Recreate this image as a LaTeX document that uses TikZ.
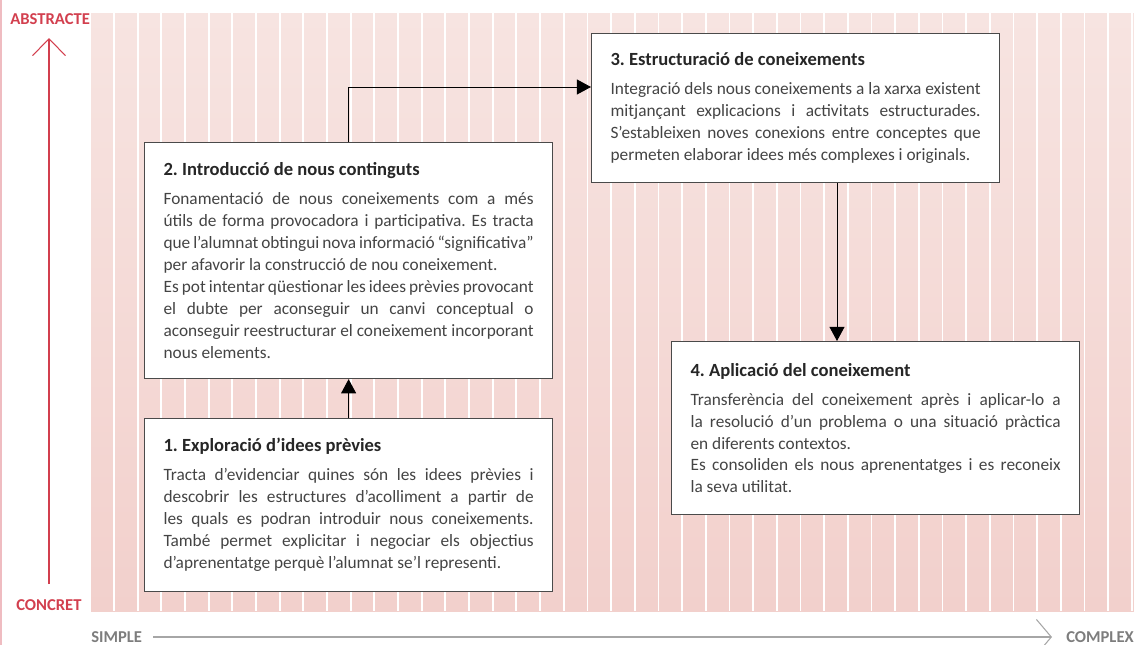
\documentclass[tikz,border=0pt]{standalone}
\usepackage{fontspec}
\setmainfont{Carlito}
\usetikzlibrary{arrows.meta}
\frenchspacing
\definecolor{stripetop}{HTML}{F7E4E1}
\definecolor{stripebottom}{HTML}{F2D0CC}
\definecolor{axisred}{HTML}{D23F4E}
\definecolor{axisgray}{HTML}{A6A6A6}
\definecolor{labelgray}{HTML}{7D7D7D}
\definecolor{bodygray}{HTML}{444444}
\definecolor{framegray}{HTML}{4A4A4A}
\newcommand{\stagehead}[1]{\hbox{\fontsize{13.2}{15.6}\selectfont\bfseries\color{black!85}#1}\vskip5pt}
\newcommand{\fullline}[1]{\hbox to \hsize{#1}}
\newcommand{\lastline}[1]{\hbox{#1}}
\begin{document}
\begin{tikzpicture}
		[x=0.025cm, y=-0.025cm,
		stage/.style={draw=framegray, line width=0.8pt, fill=white, anchor=north west, text width=9.25cm, inner xsep=0.475cm, inner ysep=0pt, align=justify, font=\fontsize{12.3}{15.6}\selectfont, text=bodygray},
		flow/.style={-{Triangle[length=10pt, width=10.6pt]}, line width=0.7pt},
		axislabel/.style={font=\fontsize{11.8}{12}\selectfont\bfseries, inner sep=0pt, anchor=west}]
		\useasboundingbox (0,0) rectangle (1134,645);
		\draw[axisred!35, line width=1.2pt] (1,0) -- (1,645);
		\shade[top color=stripetop, bottom color=stripebottom] (91,13) rectangle (1134,611);
		\foreach \k in {0,...,43}
			\fill[white] ({113.1+23.67*\k},13) rectangle ({114.9+23.67*\k},611);
		
		\node[axislabel, text=axisred] (abstracte) at (10,19) {ABSTRACTE};
		\node[axislabel, text=axisred] (concret) at (16,605) {CONCRET};
		\coordinate (concret-end) at (49,584);
		\coordinate (abstracte-end) at (49,38);
		\node[axislabel, text=labelgray] (simple) at (91,637) {SIMPLE};
		\node[axislabel, text=labelgray] (complex) at (1066,637) {COMPLEX};
		\coordinate (simple-end) at (153,637);
		\coordinate (complex-end) at (1052,637);
		
		\node[stage, minimum height=4.325cm] (exploracio) at (144,418) {\stagehead{1. Exploració d’idees prèvies}
			\fullline{Tracta d’evidenciar quines són les idees prèvies i}
			\fullline{descobrir les estructures d’acolliment a partir de}
			\fullline{les quals es podran introduir nous coneixements.}
			\fullline{També permet explicitar i negociar els objectius}
			\lastline{d’aprenentatge perquè l’alumnat se’l representi.}};
		\node[stage, minimum height=5.9cm] (introduccio) at (144,142) {\stagehead{2. Introducció de nous continguts}
			\fullline{Fonamentació de nous coneixements com a més}
			\fullline{útils de forma provocadora i participativa. Es tracta}
			\fullline{que l’alumnat obtingui nova informació “significativa”}
			\lastline{per afavorir la construcció de nou coneixement.}
			\fullline{Es pot intentar qüestionar les idees prèvies provocant}
			\fullline{el dubte per aconseguir un canvi conceptual o}
			\fullline{aconseguir reestructurar el coneixement incorporant}
			\lastline{nous elements.}};
		\node[stage, minimum height=3.725cm] (estructuracio) at (591,33) {\stagehead{3. Estructuració de coneixements}
			\fullline{Integració dels nous coneixements a la xarxa existent}
			\fullline{mitjançant explicacions i activitats estructurades.}
			\fullline{S’estableixen noves conexions entre conceptes que}
			\lastline{permeten elaborar idees més complexes i originals.}};
		\node[stage, minimum height=4.325cm] (aplicacio) at (671,341) {\stagehead{4. Aplicació del coneixement}
			\fullline{Transferència del coneixement après i aplicar-lo a}
			\fullline{la resolució d’un problema o una situació pràctica}
			\lastline{en diferents contextos.}
			\fullline{Es consoliden els nous aprenentatges i es reconeix}
			\lastline{la seva utilitat.}};
		
		\path[axisred, line width=0.75pt, -{Straight Barb[length=12pt, width=23.4pt]}] (concret-end) edge (abstracte-end);
		\path[axisgray, line width=0.75pt, -{Straight Barb[length=10.6pt, width=25pt]}] (simple-end) edge (complex-end);
		\path[flow] (exploracio) edge (introduccio);
		\draw[flow] (introduccio.north) |- (estructuracio.west |- 0,87);
		\path[flow] (estructuracio.south -| 837,0) edge (aplicacio.north -| 837,0);
		\end{tikzpicture}
\end{document}
